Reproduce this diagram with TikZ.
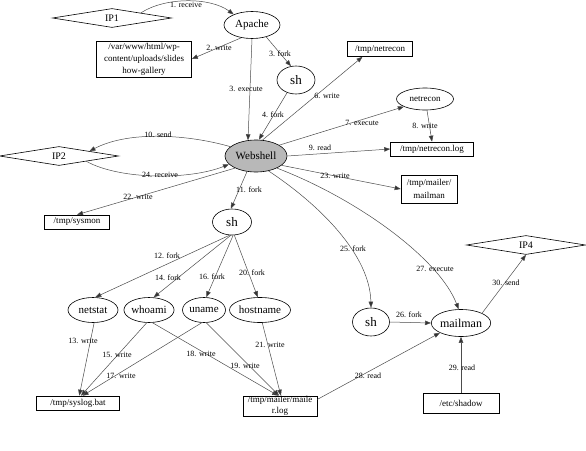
\documentclass[tikz,border=0pt]{standalone}
\usepackage{fontspec}
\setmainfont{Liberation Serif}
\usetikzlibrary{shapes.geometric,arrows.meta}
\tikzset{
  ell/.style={ellipse, draw=black, line width=0.6pt, inner sep=0pt, font=\fontsize{11}{12}\selectfont},
  boxn/.style={rectangle, draw=black, line width=0.6pt, inner sep=1pt, align=center, font=\fontsize{9}{12}\selectfont},
  dia/.style={diamond, draw=black, line width=0.6pt, inner sep=0pt, aspect=6, minimum width=119pt, minimum height=19pt, font=\fontsize{10}{11}\selectfont},
  lbl/.style={inner sep=0pt, font=\fontsize{8}{9}\selectfont},
  edge/.style={draw=black!70, line width=0.5pt, -{Triangle[length=6pt,width=4.5pt,fill=black!80]}},
}
\begin{document}
\begin{tikzpicture}[x=1pt,y=-1pt]
\useasboundingbox (0,0) rectangle (586,450);
% nodes
\node[dia] (ip1) at (112,18) {IP1};
\node[ell, minimum width=56pt, minimum height=27pt] (apache) at (252,25) {Apache};
\node[boxn, minimum width=95pt, minimum height=36pt] (var) at (144,59) {/var/www/html/wp-\\content/uploads/slides\\how-gallery};
\node[ell, minimum width=38pt, minimum height=28pt, font=\fontsize{13}{14}\selectfont] (sh1) at (296,80) {sh};
\node[boxn, minimum width=65pt, minimum height=15pt] (netreconf) at (380,49) {/tmp/netrecon};
\node[ell, minimum width=57pt, minimum height=22pt, font=\fontsize{9}{10}\selectfont] (netrecon) at (425,99) {netrecon};
\node[boxn, minimum width=83pt, minimum height=14pt] (netlog) at (432,149) {/tmp/netrecon.log};
\node[boxn, minimum width=56pt, minimum height=28pt, font=\fontsize{9}{12.5}\selectfont] (mailbin) at (429,189) {/tmp/mailer/\\mailman};
\node[ell, fill=black!28, minimum width=62pt, minimum height=32pt] (web) at (256,156) {Webshell};
\node[dia] (ip2) at (59,156) {IP2};
\node[boxn, minimum width=65pt, minimum height=14pt] (sysmon) at (77,222) {/tmp/sysmon};
\node[ell, minimum width=39pt, minimum height=26pt, font=\fontsize{13}{14}\selectfont] (sh2) at (232,222) {sh};
\node[ell, minimum width=50pt, minimum height=25pt] (netstat) at (93,310) {netstat};
\node[ell, minimum width=49pt, minimum height=25pt] (whoami) at (149,310) {whoami};
\node[ell, minimum width=43pt, minimum height=25pt] (uname) at (204,310) {uname};
\node[ell, minimum width=61pt, minimum height=25pt] (hostname) at (260,310) {hostname};
\node[boxn, minimum width=83pt, minimum height=14pt] (syslog) at (78,403) {/tmp/syslog.bat};
\node[boxn, minimum width=74pt, minimum height=20pt, inner sep=0pt, font=\fontsize{9}{11.5}\selectfont] (maillog) at (280,406) {/tmp/mailer/maile\\r.log};
\node[ell, minimum width=37pt, minimum height=28pt, font=\fontsize{13}{14}\selectfont] (sh3) at (371,322) {sh};
\node[ell, minimum width=57pt, minimum height=27pt, font=\fontsize{12}{13}\selectfont] (mailman) at (461,323) {mailman};
\node[dia] (ip4) at (526,245) {IP4};
\node[boxn, minimum width=76pt, minimum height=20pt] (shadow) at (461,403) {/etc/shadow};
% edges
\draw[edge] (ip1.10) .. controls (165,-3) and (210,-3) .. (apache.150);
\draw[edge] (apache.230) -- (var.east);
\draw[edge] (apache.-40) -- (sh1.110);
\draw[edge] (apache.south) -- (web.117);
\draw[edge] (sh1.235) -- (web.80);
\draw[edge] (web.68) -- (netreconf.204);
\draw[edge] (web.25) -- (netrecon.200);
\draw[edge] (netrecon.-80) -- (netlog.north);
\draw[edge] (web.east) -- (netlog.west);
\draw[edge] (web.-20) -- (mailbin.west);
\draw[edge] (web.160) .. controls (190,135) and (130,130) .. (ip2.9);
\draw[edge] (ip2.-11) .. controls (120,180) and (190,180) .. (web.197);
\draw[edge] (web.210) -- (sysmon.north);
\draw[edge] (web.240) -- (sh2.95);
\draw[edge] (web.-50) .. controls (320,205) and (370,255) .. (sh3.north);
\draw[edge] (web.-30) .. controls (360,200) and (440,260) .. (mailman.100);
\draw[edge] (sh2.-100) -- (netstat.80);
\draw[edge] (sh2.-95) -- (whoami.70);
\draw[edge] (sh2.-85) -- (uname.80);
\draw[edge] (sh2.-80) -- (hostname.100);
\draw[edge] (netstat.-85) -- (syslog.80);
\draw[edge] (whoami.-100) -- (syslog.68);
\draw[edge] (uname.-100) -- (syslog.58);
\draw[edge] (whoami.-75) -- (maillog.100);
\draw[edge] (uname.-80) -- (maillog.95);
\draw[edge] (hostname.-80) -- (maillog.85);
\draw[edge] (maillog.10) -- (mailman.205);
\draw[edge] (shadow.north) -- (mailman.south);
\draw[edge] (sh3.east) -- (mailman.west);
\draw[edge] (mailman.25) -- (ip4.south);
% labels
\node[lbl] (l1) at (186,5) {1. receive};
\node[lbl] (l2) at (219,48) {2. write};
\node[lbl] (l3) at (280,54) {3. fork};
\node[lbl] (l3b) at (246,89) {3. execute};
\node[lbl] (l4) at (273,115) {4. fork};
\node[lbl] (l6) at (327,96) {6. write};
\node[lbl] (l7) at (362,123) {7. execute};
\node[lbl] (l8) at (425,126) {8. write};
\node[lbl] (l9) at (320,148) {9. read};
\node[lbl] (l23) at (335,176) {23. write};
\node[lbl] (l10) at (158,135) {10. send};
\node[lbl] (l24) at (160,175) {24. receive};
\node[lbl] (l22) at (138,197) {22. write};
\node[lbl] (l11) at (249,190) {11. fork};
\node[lbl] (l12) at (167,256) {12. fork};
\node[lbl] (l14) at (168,278) {14. fork};
\node[lbl] (l16) at (212,277) {16. fork};
\node[lbl] (l20) at (252,273) {20. fork};
\node[lbl] (l13) at (83,341) {13. write};
\node[lbl] (l15) at (117,355) {15. write};
\node[lbl] (l17) at (121,376) {17. write};
\node[lbl] (l18) at (201,354) {18. write};
\node[lbl] (l19) at (245,366) {19. write};
\node[lbl] (l21) at (270,345) {21. write};
\node[lbl] (l25) at (353,249) {25. fork};
\node[lbl] (l27) at (435,269) {27. execute};
\node[lbl] (l30) at (506,283) {30. send};
\node[lbl] (l26) at (409,315) {26. fork};
\node[lbl] (l28) at (368,376) {28. read};
\node[lbl] (l29) at (462,368) {29. read};
\end{tikzpicture}
\end{document}
